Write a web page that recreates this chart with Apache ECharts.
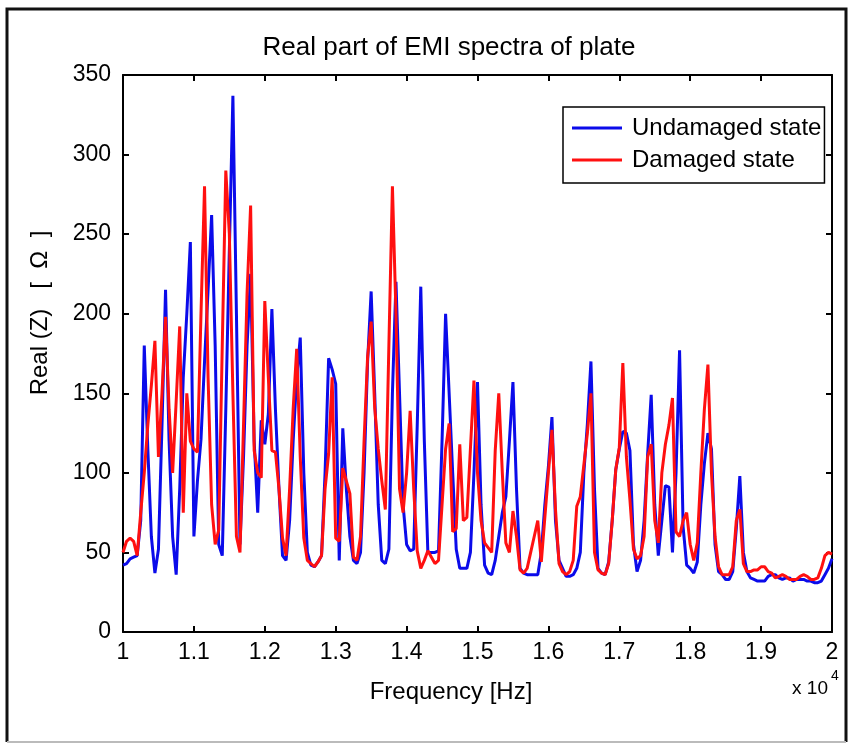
<!DOCTYPE html>
<html>
<head>
<meta charset="utf-8">
<script src="https://cdn.jsdelivr.net/npm/echarts@6/dist/echarts.min.js"></script>
<style>
html,body{margin:0;padding:0;background:#fff;}
#chart{width:853px;height:745px;}
</style>
</head>
<body>
<div id="chart"></div>
<script>
// Frequency grid (Hz): 10000 to 20000, one sample every 50 Hz
const freqStart = 10000;
const freqStep = 50;

// Real(Z) [Ohm] – undamaged state
const undamaged = [
  42, 43, 46, 47, 48, 70, 180, 115, 60, 37,
  52, 130, 215, 120, 60, 36, 90, 160, 200, 245,
  60, 95, 121, 170, 215, 262, 180, 55, 48, 140,
  240, 337, 200, 55, 110, 180, 225, 120, 75, 133,
  118, 137, 203, 140, 90, 48, 45, 70, 120, 160,
  185, 100, 50, 42, 41, 44, 48, 100, 172, 165,
  156, 45, 128, 90, 60, 45, 43, 50, 100, 170,
  214, 150, 80, 45, 43, 52, 150, 220, 150, 80,
  55, 51, 52, 130, 217, 120, 50, 50, 50, 51,
  120, 200, 150, 100, 52, 40, 40, 40, 50, 100,
  157, 80, 42, 37, 36, 45, 60, 75, 85, 120,
  157, 90, 40, 37, 36, 36, 36, 36, 50, 80,
  104, 135, 70, 45, 40, 35, 35, 36, 40, 50,
  100, 131, 170, 90, 40, 37, 36, 44, 70, 102,
  115, 126, 125, 114, 55, 38, 45, 70, 112, 149,
  80, 48, 70, 92, 91, 50, 100, 177, 66, 42,
  40, 37, 44, 80, 106, 125, 115, 55, 38, 36,
  33, 33, 38, 65, 98, 50, 38, 34, 33, 32,
  32, 32, 35, 36, 36, 34, 33, 34, 34, 32,
  33, 33, 33, 32, 32, 31, 31, 32, 36, 40,
  46
];

// Real(Z) [Ohm] – damaged state
const damaged = [
  50, 57, 59, 57, 48, 75, 100, 130, 155, 183,
  110, 150, 198, 140, 100, 145, 192, 75, 150, 120,
  115, 113, 200, 280, 160, 80, 55, 64, 180, 290,
  250, 150, 60, 50, 130, 213, 268, 114, 100, 97,
  208, 160, 114, 113, 90, 59, 48, 90, 140, 178,
  110, 59, 45, 43, 41, 44, 48, 90, 112, 160,
  59, 57, 103, 95, 87, 47, 45, 60, 120, 173,
  195, 141, 115, 95, 77, 180, 280, 200, 90, 75,
  100, 139, 90, 51, 40, 45, 51, 47, 43, 45,
  80, 115, 131, 63, 65, 118, 70, 72, 115, 158,
  100, 70, 56, 53, 50, 114, 150, 100, 56, 50,
  76, 60, 39, 37, 40, 50, 60, 70, 44, 72,
  100, 127, 77, 43, 38, 36, 38, 45, 79, 85,
  105, 125, 150, 50, 39, 37, 36, 43, 70, 102,
  116, 169, 110, 83, 52, 46, 48, 60, 110, 118,
  70, 56, 100, 118, 130, 147, 63, 60, 70, 75,
  55, 45, 56, 100, 140, 168, 100, 60, 41, 36,
  36, 36, 41, 70, 77, 43, 38, 38, 39, 39,
  41, 41, 38, 37, 34, 35, 36, 35, 33, 33,
  33, 35, 36, 35, 33, 33, 34, 40, 48, 50,
  49
];

// Axis ticks
const xTicks = [10000, 11000, 12000, 13000, 14000, 15000, 16000, 17000, 18000, 19000, 20000];
const yTicks = [0, 50, 100, 150, 200, 250, 300, 350];

const seriesNames = ['Undamaged state', 'Damaged state'];
const seriesColors = ['#0b0bea', '#ff1010'];

const toPairs = arr => arr.map((v, i) => [freqStart + i * freqStep, v]);

const FONT = 'Liberation Sans, Arial, Helvetica, sans-serif';
const chart = echarts.init(document.getElementById('chart'), null, {renderer: 'canvas'});

const gridL = 123, gridR = 21, gridT = 75, gridB = 113;

const axisCommon = {
  axisLine: {show: true, onZero: false, lineStyle: {color: '#000', width: 2}},
  axisTick: {show: true, inside: true, length: 6, lineStyle: {color: '#000', width: 2}},
  splitLine: {show: false}
};

chart.setOption({
  animation: false,
  backgroundColor: '#fff',
  title: {
    text: 'Real part of EMI spectra of plate',
    left: 444, top: 30, textAlign: 'center',
    textStyle: {fontFamily: FONT, fontSize: 26, fontWeight: 'normal', color: '#000'}
  },
  grid: {left: gridL, right: gridR, top: gridT, bottom: gridB, containLabel: false},
  legend: {
    data: seriesNames.map(n => ({name: n, icon: 'rect'})),
    orient: 'vertical',
    left: 563, top: 107,
    padding: [9, 3, 11, 9],
    itemWidth: 50, itemHeight: 3, itemGap: 8,
    backgroundColor: '#fff',
    borderColor: '#000', borderWidth: 1.5, borderRadius: 0,
    textStyle: {fontFamily: FONT, fontSize: 24, color: '#000', lineHeight: 22, padding: [0, 0, 0, 5]}
  },
  xAxis: [
    Object.assign({}, axisCommon, {
      type: 'value', position: 'bottom',
      min: xTicks[0], max: xTicks[xTicks.length - 1], interval: 1000,
      axisLabel: {
        show: true, margin: 9, color: '#000', fontFamily: FONT, fontSize: 23,
        formatter: v => String(+(v / 10000).toFixed(1))
      }
    }),
    Object.assign({}, axisCommon, {
      type: 'value', position: 'top',
      min: xTicks[0], max: xTicks[xTicks.length - 1], interval: 1000,
      axisLabel: {show: false}
    })
  ],
  yAxis: [
    Object.assign({}, axisCommon, {
      type: 'value', position: 'left',
      min: yTicks[0], max: yTicks[yTicks.length - 1], interval: 50,
      axisLabel: {show: true, margin: 12, color: '#000', fontFamily: FONT, fontSize: 23}
    }),
    Object.assign({}, axisCommon, {
      type: 'value', position: 'right',
      min: yTicks[0], max: yTicks[yTicks.length - 1], interval: 50,
      axisLabel: {show: false}
    })
  ],
  series: [
    {
      name: seriesNames[0], type: 'line', xAxisIndex: 0, yAxisIndex: 0,
      data: toPairs(undamaged), symbol: 'none', showSymbol: false,
      color: seriesColors[0],
      lineStyle: {color: seriesColors[0], width: 3}, z: 2
    },
    {
      name: seriesNames[1], type: 'line', xAxisIndex: 0, yAxisIndex: 0,
      data: toPairs(damaged), symbol: 'none', showSymbol: false,
      color: seriesColors[1],
      lineStyle: {color: seriesColors[1], width: 3}, z: 3
    }
  ],
  graphic: [
    {type: 'polyline', silent: true, z: 100,
      shape: {points: [[7, 742], [7, 9], [846, 9], [846, 742]]},
      style: {stroke: '#111', lineWidth: 3, fill: null}},
    {type: 'line', silent: true, z: 100,
      shape: {x1: 7, y1: 742, x2: 846, y2: 742},
      style: {stroke: '#bbb', lineWidth: 2}},
    {type: 'text', silent: true, z: 100,
      x: 40, y: 313, rotation: Math.PI / 2,
      style: {text: 'Real (Z)   [  Ω  ]', fontFamily: FONT, fontSize: 24, fill: '#000',
        textAlign: 'center', textVerticalAlign: 'middle'}},
    {type: 'text', silent: true, z: 100,
      x: 451, y: 692,
      style: {text: 'Frequency [Hz]', fontFamily: FONT, fontSize: 24, fill: '#000',
        textAlign: 'center', textVerticalAlign: 'middle'}},
    {type: 'text', silent: true, z: 100,
      x: 828, y: 689,
      style: {text: 'x 10', fontFamily: FONT, fontSize: 19, fill: '#000',
        textAlign: 'right', textVerticalAlign: 'middle'}},
    {type: 'text', silent: true, z: 100,
      x: 831, y: 676,
      style: {text: '4', fontFamily: FONT, fontSize: 14, fill: '#000',
        textAlign: 'left', textVerticalAlign: 'middle'}}
  ]
});
</script>
</body>
</html>
